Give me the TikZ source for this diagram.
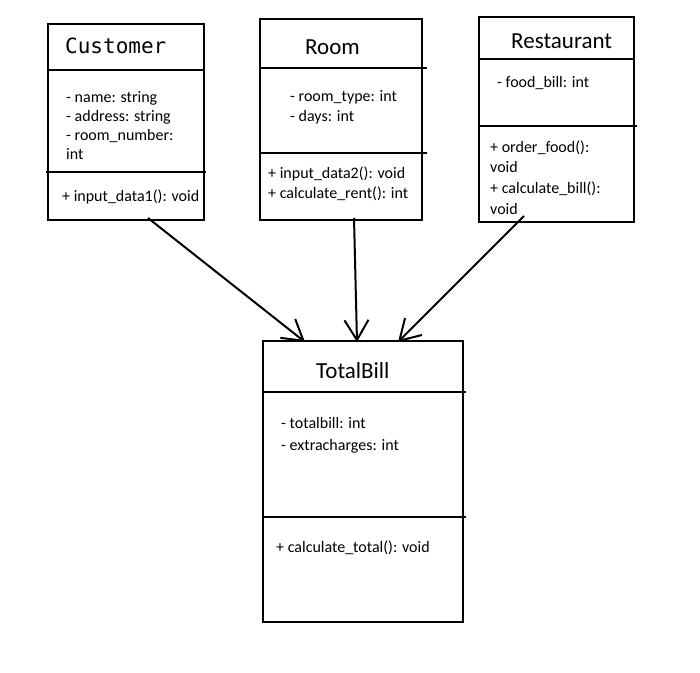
\documentclass[tikz,border=0pt]{standalone}
\usepackage{fontspec}
\setmainfont{Carlito}
\newfontfamily\titlemono{DejaVu Sans Mono}
\usetikzlibrary{arrows.meta}
\tikzset{
  classbox/.style={draw, line width=2.4pt, rectangle, inner sep=0pt, outer sep=0pt},
  divider/.style={line width=2.2pt},
  titletext/.style={anchor=base west, inner sep=0pt, font=\fontsize{23}{27}\selectfont},
  monotitle/.style={anchor=base west, inner sep=0pt, font=\titlemono\fontsize{21}{25}\selectfont},
  bodytext/.style={anchor=base west, inner sep=0pt, font=\fontsize{16}{19.5}\selectfont},
  assoc/.style={line width=2pt, -{Straight Barb[length=20pt,width=24pt]}}
}
\begin{document}
\begin{tikzpicture}[x=1pt,y=-1pt]
\useasboundingbox (0,0) rectangle (700,672);

% Customer
\node[classbox, minimum width=156pt, minimum height=196pt] (cust) at (126,122) {};
\draw[divider] (47,70) -- (205,70);
\draw[divider] (46,172) -- (206,172);
\node[monotitle] (custT) at (65,53.5) {Customer};
\node[bodytext] (custA1) at (66,102) {- name: string};
\node[bodytext] (custA2) at (66,121.2) {- address: string};
\node[bodytext] (custA3) at (66,140.4) {- room\_number:};
\node[bodytext] (custA4) at (66,159.6) {int};
\node[bodytext] (custM1) at (62,201) {+ input\_data1(): void};

% Room
\node[classbox, minimum width=162pt, minimum height=201pt] (room) at (341,119.5) {};
\draw[divider] (260,68) -- (427,68);
\draw[divider] (260,153) -- (427,153);
\node[titletext] (roomT) at (305,54.5) {Room};
\node[bodytext] (roomA1) at (290,101) {- room\_type: int};
\node[bodytext] (roomA2) at (290,121) {- days: int};
\node[bodytext] (roomM1) at (268,178) {+ input\_data2(): void};
\node[bodytext] (roomM2) at (268,198) {+ calculate\_rent(): int};

% Restaurant
\node[classbox, minimum width=155pt, minimum height=205pt] (rest) at (556.5,119.5) {};
\draw[divider] (479,59) -- (634,59);
\draw[divider] (479,126) -- (637,126);
\node[titletext] (restT) at (511,48.5) {Restaurant};
\node[bodytext] (restA1) at (497,87) {- food\_bill: int};
\node[bodytext] (restM1) at (490,152) {+ order\_food():};
\node[bodytext] (restM2) at (490,172.7) {void};
\node[bodytext] (restM3) at (490,193.4) {+ calculate\_bill():};
\node[bodytext] (restM4) at (490,214.1) {void};

% TotalBill
\node[classbox, minimum width=200pt, minimum height=281pt] (total) at (363,481.5) {};
\draw[divider] (263,392) -- (466,392);
\draw[divider] (263,517) -- (466,517);
\node[titletext] (totalT) at (316,378.5) {TotalBill};
\node[bodytext] (totalA1) at (281,428) {- totalbill: int};
\node[bodytext] (totalA2) at (281,450) {- extracharges: int};
\node[bodytext] (totalM1) at (276,552) {+ calculate\_total(): void};

% associations
\draw[assoc] ([xshift=22pt,yshift=2pt]cust.south) -- ([xshift=-58pt,yshift=-1pt]total.north);
\draw[assoc] ([xshift=13pt,yshift=2pt]room.south) -- ([xshift=-6pt,yshift=-1pt]total.north);
\draw[assoc] ([xshift=-32.5pt,yshift=6pt]rest.south) -- ([xshift=35pt,yshift=-1pt]total.north);
\end{tikzpicture}
\end{document}
